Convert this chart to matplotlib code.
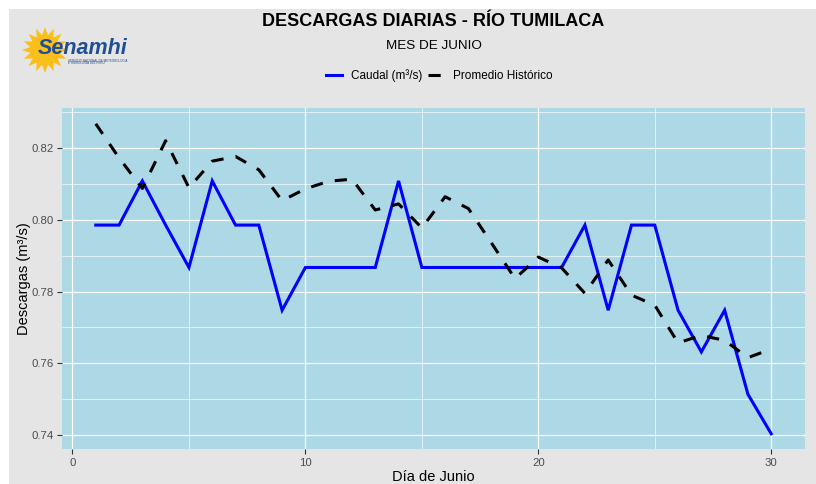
"""Descargas diarias del rio Tumilaca, mes de junio (caudal vs promedio historico)."""

import numpy as np
import matplotlib
matplotlib.use("Agg")
import matplotlib.pyplot as plt
from matplotlib.patches import Rectangle, Polygon
from matplotlib.ticker import MultipleLocator

plt.rcParams['font.family'] = ['Liberation Sans', 'DejaVu Sans']

# datos
dias = list(range(1, 31))
caudal = [0.7985, 0.7985, 0.8108, 0.7985, 0.7867, 0.8108, 0.7985, 0.7985, 0.7748, 0.7867,
          0.7867, 0.7867, 0.7867, 0.8108, 0.7867, 0.7867, 0.7867, 0.7867, 0.7867, 0.7867,
          0.7867, 0.7985, 0.7748, 0.7985, 0.7985, 0.7748, 0.7632, 0.7748, 0.7514, 0.7404]
promedio = [0.8267, 0.8172, 0.8087, 0.8220, 0.8089, 0.8163, 0.8176, 0.8139, 0.8053, 0.8086,
            0.8107, 0.8113, 0.8027, 0.8044, 0.7977, 0.8064, 0.8031, 0.7934, 0.7836, 0.7896,
            0.7866, 0.7795, 0.7888, 0.7790, 0.7762, 0.7657, 0.7678, 0.7664, 0.7616, 0.7640]
etiquetas = ['Caudal (m³/s)', 'Promedio Histórico']

W, H = 816, 484
fig = plt.figure(figsize=(W / 100, H / 100), dpi=100, facecolor='white')

# capa de fondo en pixeles (fondo gris, titulos, logo)
bg = fig.add_axes([0, 0, 1, 1], zorder=-1)
bg.set_xlim(0, W)
bg.set_ylim(H, 0)
bg.axis('off')
bg.add_patch(Rectangle((9, 9), W - 9, H - 9, color='#E5E5E5', lw=0))

bg.text(433, 22, 'DESCARGAS DIARIAS - RÍO TUMILACA', ha='center', va='center',
        fontsize=13, fontweight='bold', color='black')
bg.text(434, 46, 'MES DE JUNIO', ha='center', va='center', fontsize=9.7, color='black')

# logo aproximado de Senamhi
cx, cy = 45, 50
ang = np.linspace(0, 2 * np.pi, 33)[:-1]
rad = np.where(np.arange(32) % 2 == 0, 23, 15)
sol = np.column_stack([cx + rad * np.cos(ang), cy + rad * np.sin(ang)])
bg.add_patch(Polygon(sol, closed=True, color='#FBBF1B', lw=0))
bg.text(38, 54, 'Senamhi', fontsize=15.5, fontweight='bold', fontstyle='italic',
        color='#1F4E96', ha='left', va='baseline')
bg.text(68, 60.5, 'SERVICIO NACIONAL DE METEOROLOGÍA', fontsize=2.2, color='#1F4E96', va='center')
bg.text(68, 63.5, 'E HIDROLOGÍA DEL PERÚ', fontsize=2.2, color='#1F4E96', va='center')

# panel principal
ax = fig.add_axes([62 / W, 1 - 449.3 / H, (805 - 62) / W, (449.3 - 108.3) / H])
ax.set_facecolor('#ADD8E6')
for s in ax.spines.values():
    s.set_visible(False)

l1, = ax.plot(dias, caudal, color='#0000FF', lw=2.2, solid_joinstyle='miter')
l2, = ax.plot(dias, promedio, color='black', lw=2.2, dashes=(4, 4))

# expansion tipo ggplot (5 %)
ymin, ymax = min(caudal + promedio), max(caudal + promedio)
ey = (ymax - ymin) * 0.05
ax.set_ylim(ymin - ey, ymax + ey)
ex = (max(dias) - min(dias)) * 0.05
ax.set_xlim(min(dias) - ex, max(dias) + ex)

ax.xaxis.set_major_locator(MultipleLocator(10))
ax.xaxis.set_minor_locator(MultipleLocator(5))
ax.yaxis.set_major_locator(MultipleLocator(0.02))
ax.yaxis.set_minor_locator(MultipleLocator(0.01))
ax.yaxis.set_major_formatter(plt.FormatStrFormatter('%.2f'))
ax.grid(which='major', color='white', lw=0.9)
ax.grid(which='minor', color='white', lw=0.45)
ax.set_axisbelow(True)
ax.tick_params(which='major', length=3.5, width=0.8, color='#333333',
               labelcolor='#4D4D4D', labelsize=8.2, pad=2.5)
ax.tick_params(which='minor', length=0)

ax.set_xlabel('Día de Junio', fontsize=10.5, labelpad=1.5)
ax.set_ylabel('Descargas (m³/s)', fontsize=10.5, labelpad=0.5)

fig.legend([l1, l2], etiquetas, ncol=2, loc='center', bbox_to_anchor=(439.5 / W, 1 - 76 / H),
           frameon=False, fontsize=8.5, handlelength=1.35, handletextpad=0.75,
           columnspacing=0.5)

fig.savefig('out.png', dpi=100, facecolor=fig.get_facecolor())
